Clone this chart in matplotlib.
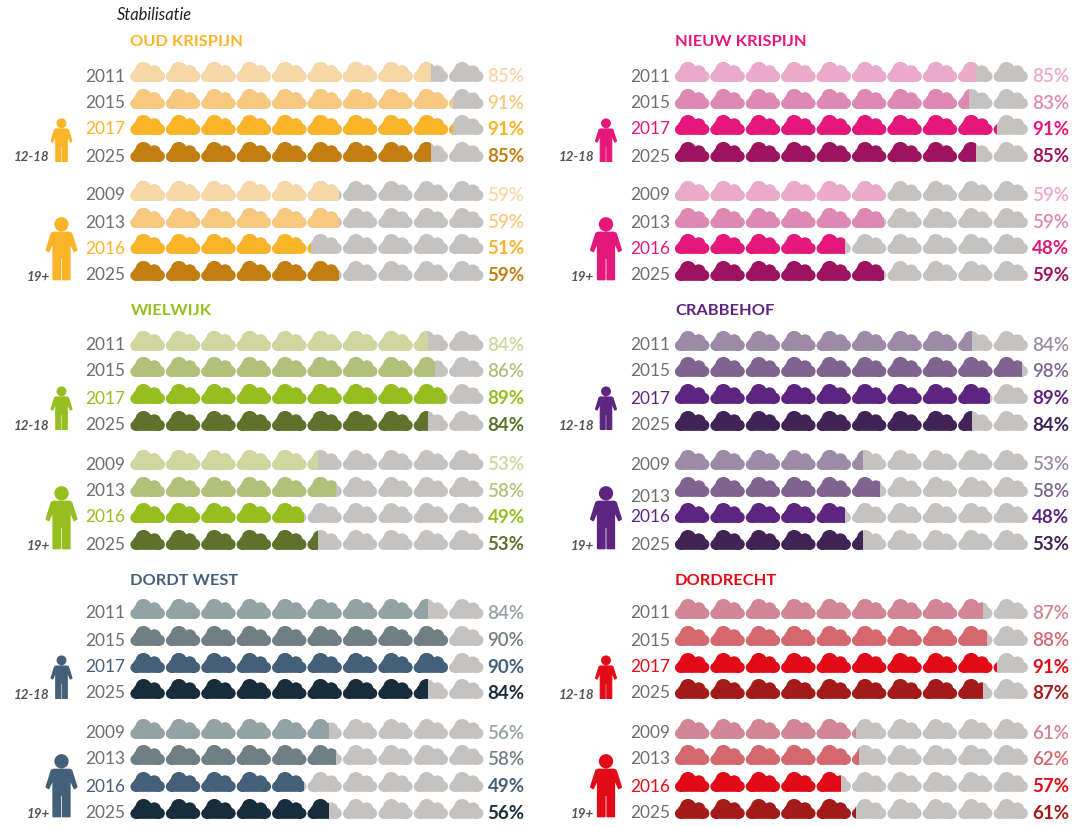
import matplotlib
matplotlib.use("Agg")
import matplotlib.pyplot as plt
from matplotlib.patches import PathPatch, Rectangle
from matplotlib.path import Path
from matplotlib.transforms import Affine2D

plt.rcParams['font.family'] = ['Lato', 'DejaVu Sans']

years_young = ['2011', '2015', '2017', '2025']
years_adult = ['2009', '2013', '2016', '2025']

# printed percentages, 12-18 rows then 19+ rows
oud_krispijn = [85, 91, 91, 85, 59, 59, 51, 59]
nieuw_krispijn = [85, 83, 91, 85, 59, 59, 48, 59]
wielwijk = [84, 86, 89, 84, 53, 58, 49, 53]
crabbehof = [84, 98, 89, 84, 53, 58, 48, 53]
dordt_west = [84, 90, 90, 84, 56, 58, 49, 56]
dordrecht = [87, 88, 91, 87, 61, 62, 57, 61]
# the Dordrecht 19+ clouds are filled less far than the printed number
dordrecht_fill = [87, 88, 91, 87, 51, 52, 47, 51]

oud_colors = ['#F7D7A6', '#F7C97F', '#FAB427', '#C27F10']
nieuw_colors = ['#EBA9CB', '#DE88B4', '#E6177A', '#9E1360']
wielwijk_colors = ['#CFD69E', '#B3C07A', '#95BE1E', '#5E722B']
crabbehof_colors = ['#9C8AA6', '#806490', '#5E2580', '#3F2455']
west_colors = ['#92A2A5', '#6F7F84', '#446078', '#182D3B']
dordrecht_colors = ['#D28593', '#D5676F', '#E30A17', '#A31A18']

GREY = '#C4C3C1'
TEXT_GREY = '#6E6E6E'
AGE_GREY = '#555555'
N_CLOUDS = 10
CLOUD_PITCH = 35.4


def make_cloud():
    parts = [
        Path.circle((5.2, 14.6), 5.2),
        Path.circle((8.0, 11.5), 5.4),
        Path.circle((13.0, 8.0), 8.0),
        Path.circle((23.8, 10.0), 6.6),
        Path.circle((28.8, 14.3), 5.5),
        Path.unit_rectangle().transformed(Affine2D().scale(24, 11).translate(5, 8.8)),
    ]
    return Path.make_compound_path(*parts)


def make_person():
    # drawn for the big figure, centred on x, top at y=0
    head = Path.circle((0, 6.3), 6.3)
    body = Path([
        (-8, 14.5), (8, 14.5), (10, 15.5), (15.2, 32), (12.8, 33.5), (8.3, 23.5),
        (8.3, 61.5), (1.2, 61.5), (1.2, 40), (-1.2, 40), (-1.2, 61.5), (-8.3, 61.5),
        (-8.3, 23.5), (-12.8, 33.5), (-15.2, 32), (-10, 15.5), (-8, 14.5),
    ], closed=True)
    return Path.make_compound_path(head, body)


CLOUD = make_cloud()
PERSON = make_person()

fig = plt.figure(figsize=(10.8, 8.27), dpi=100)
ax = fig.add_axes([0, 0, 1, 1])
ax.set_xlim(0, 1080)
ax.set_ylim(827, 0)
ax.axis('off')


def draw_person(x, y_top, scale, color):
    tr = Affine2D().scale(scale).translate(x, y_top) + ax.transData
    ax.add_patch(PathPatch(PERSON, facecolor=color, edgecolor=color, lw=1.2 * scale,
                           joinstyle='round', transform=tr))


def draw_row(x0, y_top, year, label, fill, color, year_color, weight, year_dy=0):
    fill_end = x0 + fill * CLOUD_PITCH / N_CLOUDS
    clip = Rectangle((x0 - 2, y_top - 2), fill_end - x0 + 2, 26, transform=ax.transData)
    for i in range(N_CLOUDS):
        tr = Affine2D().translate(x0 + i * CLOUD_PITCH, y_top) + ax.transData
        ax.add_patch(PathPatch(CLOUD, facecolor=GREY, edgecolor='none', transform=tr))
        front = PathPatch(CLOUD, facecolor=color, edgecolor='none', transform=tr)
        ax.add_patch(front)
        front.set_clip_path(clip)
    ax.text(x0 - 5, y_top + 14.5 + year_dy, year, color=year_color, fontsize=12.4,
            ha='right', va='center')
    ax.text(x0 + 357, y_top + 14.5, '%d%%' % label, color=color, fontsize=13.5,
            weight=weight, ha='left', va='center')


def draw_panel(x0, title, title_y, labels, fills, colors, tops_young, tops_adult,
               person_young, person_adult, age_young, age_adult, year_dys=None):
    ax.text(x0, title_y + 1, title, color=colors[2], fontsize=11.8, weight='bold',
            ha='left', va='center')
    year_dys = year_dys or {}
    tops = tops_young + tops_adult
    years = years_young + years_adult
    weights = ['semibold', 'semibold', 'bold', 'bold'] * 2
    for i, (y, year) in enumerate(zip(tops, years)):
        c = colors[i % 4]
        yc = colors[2] if i % 4 == 2 else TEXT_GREY
        draw_row(x0, y, year, labels[i], fills[i], c, yc, weights[i], year_dys.get(i, 0))
    px = x0 - 69
    draw_person(px, person_young, 0.69, colors[2])
    draw_person(px, person_adult, 1.0, colors[2])
    ax.text(x0 - 81, age_young, '12-18', color=AGE_GREY, fontsize=9.6, style='italic',
            weight='bold', ha='right', va='center')
    ax.text(x0 - 81, age_adult, '19+', color=AGE_GREY, fontsize=9.6, style='italic',
            weight='bold', ha='right', va='center')


ax.text(117, 14.5, 'Stabilisatie', color='#222222', fontsize=11.9, style='italic',
        ha='left', va='center')

draw_panel(130.5, 'OUD KRISPIJN', 41, oud_krispijn, oud_krispijn, oud_colors,
           [62, 89, 115, 142], [181, 208, 234, 261], 119, 218, 157, 277)
draw_panel(675, 'NIEUW KRISPIJN', 41, nieuw_krispijn, nieuw_krispijn, nieuw_colors,
           [62, 89, 115, 142], [181, 208, 234, 261], 119, 218, 157, 277)
draw_panel(130.5, 'WIELWIJK', 310, wielwijk, wielwijk, wielwijk_colors,
           [331, 357, 384, 411], [450, 477, 503, 530], 387, 487, 426, 546)
draw_panel(675, 'CRABBEHOF', 310, crabbehof, crabbehof, crabbehof_colors,
           [331, 357, 384, 411], [450, 477, 503, 530], 387, 487, 426, 546,
           year_dys={5: 6})
draw_panel(130.5, 'DORDT WEST', 580, dordt_west, dordt_west, west_colors,
           [599, 626, 653, 679], [719, 745, 772, 799], 656, 755, 695, 814)
draw_panel(675, 'DORDRECHT', 580, dordrecht, dordrecht_fill, dordrecht_colors,
           [599, 626, 653, 679], [719, 745, 772, 799], 656, 755, 695, 814)

fig.savefig('out.png', dpi=100)
